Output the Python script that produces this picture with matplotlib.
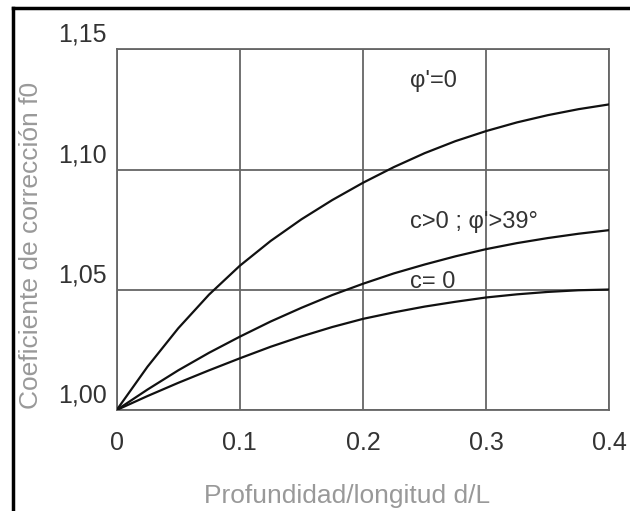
import matplotlib
matplotlib.use("Agg")
import matplotlib.pyplot as plt
from matplotlib.lines import Line2D
from matplotlib.transforms import ScaledTranslation

plt.rcParams['font.family'] = ['Liberation Sans', 'DejaVu Sans']

x = [0.0, 0.025, 0.05, 0.075, 0.10, 0.125, 0.15, 0.175, 0.20,
     0.225, 0.25, 0.275, 0.30, 0.325, 0.35, 0.375, 0.40]
phi0 = [1.000, 1.018, 1.034, 1.048, 1.060, 1.0703, 1.0793, 1.0873, 1.0945,
        1.101, 1.1068, 1.1118, 1.116, 1.1196, 1.1226, 1.1251, 1.1271]
c_pos = [1.000, 1.0085, 1.0165, 1.0238, 1.0305, 1.0368, 1.0425, 1.0478, 1.0525,
         1.0568, 1.0605, 1.0639, 1.0669, 1.0694, 1.0715, 1.0733, 1.0748]
c_zero = [1.000, 1.0058, 1.0113, 1.0165, 1.0215, 1.0263, 1.0306, 1.0345, 1.0379,
          1.0406, 1.0430, 1.0450, 1.0468, 1.0481, 1.0491, 1.0498, 1.0501]

xticks = [0, 0.1, 0.2, 0.3, 0.4]
xticklabels = ['0', '0.1', '0.2', '0.3', '0.4']
yticks = [1.00, 1.05, 1.10, 1.15]
yticklabels = ['1,00', '1,05', '1,10', '1,15']

labels = ["φ'=0", "c>0 ; φ'>39°", "c= 0"]
label_pos = [(0.238, 1.137), (0.238, 1.0782), (0.238, 1.0533)]

fig = plt.figure(figsize=(6.3, 5.11), dpi=100)
ax = fig.add_axes([116.7/630, 101/511, 492.6/630, 360.7/511])

grid_c = '#666666'
for s in [phi0, c_pos, c_zero]:
    ax.plot(x, s, color='#111111', lw=1.6, zorder=3)

ax.set_xlim(0, 0.4)
ax.set_ylim(1.0, 1.15)
ax.set_xticks(xticks)
ax.set_xticklabels(xticklabels)
ax.set_yticks(yticks)
ax.set_yticklabels(yticklabels)
ax.grid(True, color=grid_c, lw=1.3)
ax.set_axisbelow(True)
for sp in ax.spines.values():
    sp.set_color(grid_c)
    sp.set_linewidth(1.3)
ax.tick_params(length=0, labelsize=18, colors='#333333')
ax.tick_params(axis='y', pad=7)
ax.tick_params(axis='x', pad=15)

off = ScaledTranslation(0, 17/100, fig.dpi_scale_trans)
for lab in ax.get_yticklabels():
    lab.set_transform(lab.get_transform() + off)

for t, (px, py) in zip(labels, label_pos):
    ax.text(px, py, t, ha='left', va='center', fontsize=17, color='#333333')

ax.set_xlabel('Profundidad/longitud d/L', fontsize=19, color='#999999')
ax.set_ylabel('Coeficiente de corrección f0', fontsize=19, color='#999999')
ax.xaxis.set_label_coords(0.4685, -0.205)
ax.yaxis.set_label_coords(-0.150, 0.455)

fig.add_artist(Line2D([12.5/630, 12.5/630], [0, 1 - 8/511], transform=fig.transFigure, color='black', lw=2.5))
fig.add_artist(Line2D([12.5/630, 1], [1 - 8/511, 1 - 8/511], transform=fig.transFigure, color='black', lw=2.5))

fig.savefig('out.png', dpi=100)
